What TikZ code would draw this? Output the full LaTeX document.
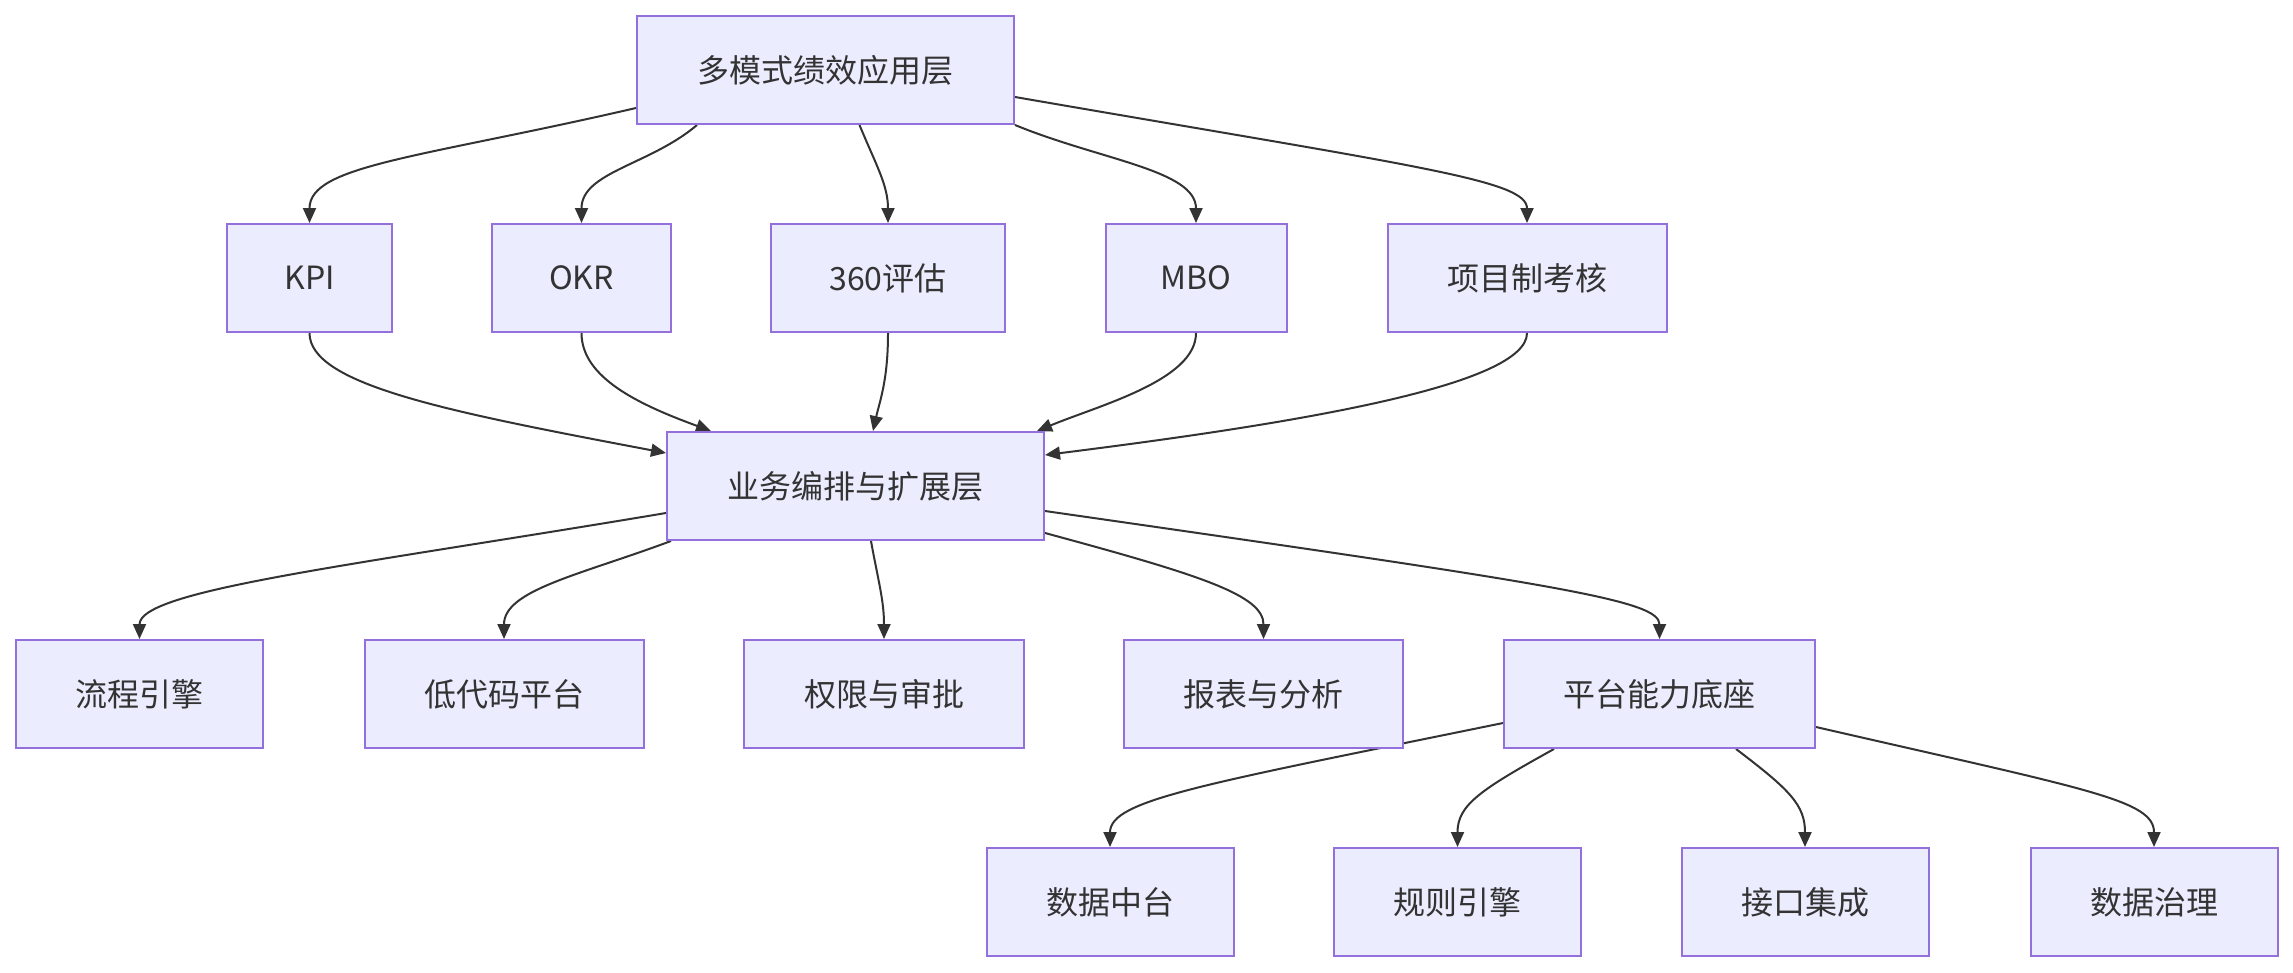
\documentclass[tikz,border=0pt]{standalone}
\usepackage{fontspec}
\setmainfont{Noto Sans CJK SC}
\usetikzlibrary{arrows.meta,backgrounds}
\definecolor{boxfill}{HTML}{ECECFF}
\definecolor{boxdraw}{HTML}{9370DB}
\definecolor{ink}{HTML}{333333}
\tikzset{
  box/.style={rectangle, draw=boxdraw, fill=boxfill, line width=2pt, minimum height=108pt,
    inner sep=0pt, text=ink, font=\fontsize{32pt}{38pt}\selectfont},
  conn/.style={draw=ink, line width=2pt, -{Triangle[length=15pt,width=13pt]}}
}
\begin{document}
\begin{tikzpicture}[x=1pt,y=-1pt]
\useasboundingbox (0,0) rectangle (2293,972);
% layer 0
\node[box, minimum width=377pt] (top) at (825.5,70) {多模式绩效应用层};
% layer 1
\node[box, minimum width=165pt] (kpi) at (309.5,278) {KPI};
\node[box, minimum width=179pt] (okr) at (581.5,278) {OKR};
\node[box, minimum width=234pt] (eval) at (888,278) {360评估};
\node[box, minimum width=181pt] (mbo) at (1196,278) {MBO};
\node[box, minimum width=279pt] (proj) at (1527,278) {项目制考核};
% layer 2
\node[box, minimum width=377pt] (biz) at (855.5,486) {业务编排与扩展层};
% layer 3
\node[box, minimum width=247pt] (flow) at (139.5,694) {流程引擎};
\node[box, minimum width=279pt] (lc) at (504,694) {低代码平台};
\node[box, minimum width=280pt] (perm) at (884,694) {权限与审批};
\node[box, minimum width=279pt] (rep) at (1263.5,694) {报表与分析};
\node[box, minimum width=311pt] (plat) at (1659.5,694) {平台能力底座};
% layer 4
\node[box, minimum width=247pt] (dmid) at (1110,902) {数据中台};
\node[box, minimum width=247pt] (rule) at (1457.5,902) {规则引擎};
\node[box, minimum width=247pt] (api) at (1805,902) {接口集成};
\node[box, minimum width=247pt] (gov) at (2154,902) {数据治理};

\begin{pgfonlayer}{background}
% top -> layer 1
\draw[conn] ([yshift=-38pt]top.west) .. controls (420,158) and (309.5,165) .. (kpi.north);
\draw[conn] ([xshift=-128.5pt]top.south) .. controls (650,165) and (581.5,172) .. (okr.north);
\draw[conn] ([xshift=34pt]top.south) .. controls (876,165) and (888,185) .. (eval.north);
\draw[conn] (top.south east) .. controls (1100,160) and (1196,170) .. (mbo.north);
\draw[conn] ([yshift=-27pt]top.east) .. controls (1420,167) and (1527,180) .. (proj.north);
% layer 1 -> biz
\draw[conn] (kpi.south) .. controls (309.5,385) and (450,412) .. ([yshift=33pt]biz.west);
\draw[conn] (okr.south) .. controls (581.5,378) and (640,405) .. ([xshift=-144.5pt]biz.north);
\draw[conn] (eval.south) .. controls (888,380) and (880,400) .. ([xshift=17.5pt]biz.north);
\draw[conn] (mbo.south) .. controls (1196,380) and (1100,405) .. ([xshift=181.5pt]biz.north);
\draw[conn] (proj.south) .. controls (1527,385) and (1300,423) .. ([yshift=31pt]biz.east);
% biz -> layer 3
\draw[conn] ([yshift=-27pt]biz.west) .. controls (350,566) and (139.5,590) .. (flow.north);
\draw[conn] ([xshift=-184.5pt]biz.south) .. controls (580,575) and (504,590) .. (lc.north);
\draw[conn] ([xshift=15.5pt]biz.south) .. controls (878,580) and (884,600) .. (perm.north);
\draw[conn] ([yshift=-47pt]biz.east) .. controls (1200,575) and (1263.5,595) .. (rep.north);
\draw[conn] ([yshift=-25pt]biz.east) .. controls (1560,585) and (1659.5,600) .. (plat.north);
% plat -> layer 4
\draw[conn] ([yshift=-29pt]plat.west) .. controls (1200,785) and (1110,800) .. (dmid.north);
\draw[conn] ([xshift=-105.5pt]plat.south) .. controls (1480,790) and (1457.5,805) .. (rule.north);
\draw[conn] ([xshift=76.5pt]plat.south) .. controls (1790,790) and (1805,805) .. (api.north);
\draw[conn] ([yshift=-33pt]plat.east) .. controls (2090,790) and (2154,800) .. (gov.north);
\end{pgfonlayer}
\end{tikzpicture}
\end{document}
